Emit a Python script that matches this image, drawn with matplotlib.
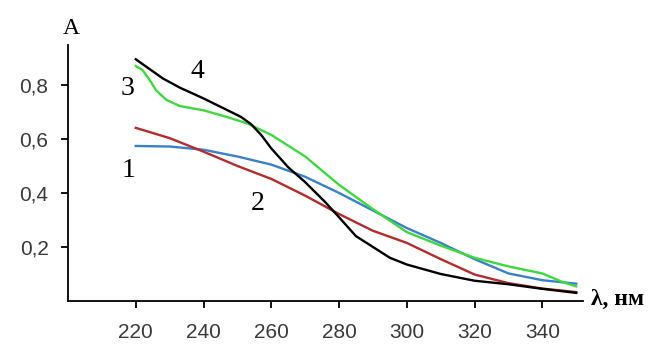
import matplotlib
matplotlib.use('Agg')
import matplotlib.pyplot as plt

# длина волны, нм
wl = [220, 230, 240, 250, 260, 270, 280, 290, 300, 310, 320, 330, 340, 350]
wl3 = [220, 222, 224, 226, 229, 233, 240, 247, 253, 260, 270, 280, 290, 300, 310, 320, 330, 340, 346, 350]
wl4 = [220, 228, 233, 240, 246, 251, 254, 257, 260, 265, 270, 276, 280, 285, 290, 295, 300, 310, 320, 330, 340, 350]

a1 = [0.574, 0.572, 0.560, 0.535, 0.505, 0.460, 0.400, 0.335, 0.270, 0.215, 0.155, 0.102, 0.077, 0.064]
a2 = [0.641, 0.603, 0.553, 0.500, 0.452, 0.390, 0.322, 0.260, 0.215, 0.155, 0.098, 0.066, 0.046, 0.033]
a3 = [0.870, 0.855, 0.820, 0.780, 0.745, 0.722, 0.706, 0.681, 0.657, 0.615, 0.535, 0.430, 0.340, 0.255,
      0.205, 0.160, 0.128, 0.102, 0.070, 0.054]
a4 = [0.895, 0.824, 0.790, 0.750, 0.713, 0.682, 0.655, 0.615, 0.565, 0.495, 0.440, 0.365, 0.310, 0.240,
      0.200, 0.160, 0.135, 0.100, 0.075, 0.062, 0.045, 0.030]

xticks = [220, 240, 260, 280, 300, 320, 340]
yticks = [0.2, 0.4, 0.6, 0.8]
ylabels = ['0,2', '0,4', '0,6', '0,8']

plt.rcParams['font.family'] = ['Liberation Sans', 'DejaVu Sans']

fig = plt.figure(figsize=(6.59, 3.47), dpi=100)
ax = fig.add_axes([0.1032, 0.1326, 0.7815, 0.7378])

ax.plot(wl, a1, color='#3a80c8', lw=1.7)
ax.plot(wl, a2, color='#b52a2a', lw=1.7)
ax.plot(wl3, a3, color='#3ed83e', lw=1.7)
ax.plot(wl4, a4, color='black', lw=1.7)

ax.set_xlim(200, 352)
ax.set_ylim(0, 0.948)
ax.spines['top'].set_visible(False)
ax.spines['right'].set_visible(False)
for s in ['left', 'bottom']:
    ax.spines[s].set_linewidth(1.3)

ax.set_xticks(xticks)
ax.set_xticklabels([str(t) for t in xticks])
ax.set_yticks(yticks)
ax.set_yticklabels(ylabels)
ax.tick_params(axis='x', length=5, width=1.3, pad=11, labelsize=15, labelcolor='#3a3a3a')
ax.tick_params(axis='y', length=5, width=1.3, pad=9, labelsize=15, labelcolor='#3a3a3a')

serif = 'Liberation Serif'
ax.text(218, 0.484, '1', fontsize=20, family=serif, ha='center', va='center')
ax.text(256, 0.36, '2', fontsize=20, family=serif, ha='center', va='center')
ax.text(217.7, 0.788, '3', fontsize=20, family=serif, ha='center', va='center')
ax.text(238.3, 0.85, '4', fontsize=20, family=serif, ha='center', va='center')

fig.text(71 / 659, 1 - 28 / 347, 'A', fontsize=17, family=serif, ha='center', va='center')
fig.text(591 / 659, 1 - 299 / 347, 'λ, нм', fontsize=17, family=serif, weight='bold',
         ha='left', va='center')

fig.savefig('out.png', dpi=100)
